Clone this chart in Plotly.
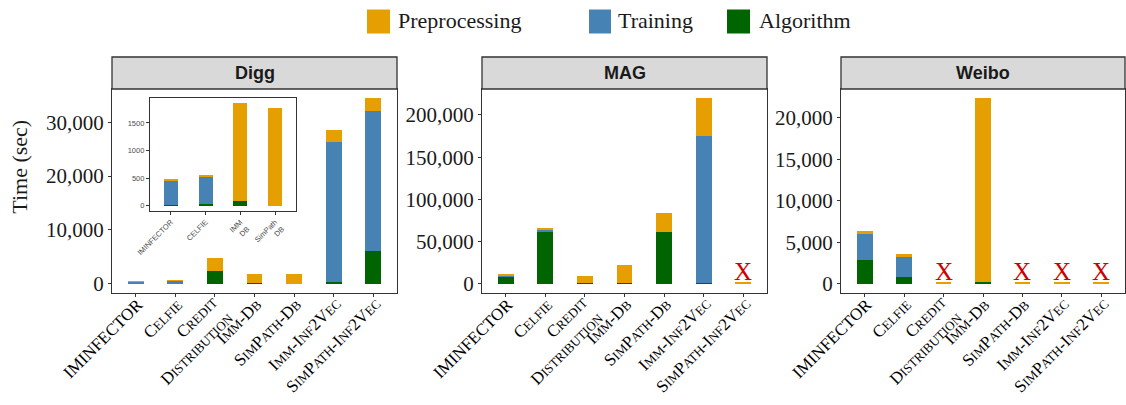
import plotly.graph_objects as go

# ---------------- data ----------------
categories = ["IMINFECTOR", "CELFIE", "CREDIT DISTRIBUTION", "IMM-DB",
              "SIMPATH-DB", "IMM-INF2VEC", "SIMPATH-INF2VEC"]

def sm(t):
    return "<span style='font-size:13px;color:#000000'>" + t + "</span>"

tick_labels = [
    "IMINFECTOR",
    "C" + sm("ELFIE"),
    "C" + sm("REDIT") + "<br>D" + sm("ISTRIBUTION"),
    "I" + sm("MM") + "-D" + sm("B"),
    "S" + sm("IM") + "P" + sm("ATH") + "-D" + sm("B"),
    "I" + sm("MM") + "-I" + sm("NF") + "2V" + sm("EC"),
    "S" + sm("IM") + "P" + sm("ATH") + "-I" + sm("NF") + "2V" + sm("EC"),
]

# Digg
digg_algorithm = [15, 30, 2300, 80, 0, 250, 6100]
digg_training = [430, 485, 0, 0, 0, 26000, 25900]
digg_preprocessing = [15, 22, 2430, 1775, 1765, 2400, 2450]
digg_missing = [False, False, False, False, False, False, False]

# MAG
mag_algorithm = [9100, 61100, 1000, 300, 61100, 1000, 0]
mag_training = [1200, 3600, 0, 0, 0, 173600, 0]
mag_preprocessing = [1200, 1200, 8100, 21500, 22600, 45200, 1200]
mag_missing = [False, False, False, False, False, False, True]

# Weibo
weibo_algorithm = [2820, 810, 0, 200, 0, 0, 0]
weibo_training = [3270, 2420, 0, 0, 0, 0, 0]
weibo_preprocessing = [240, 320, 120, 22140, 120, 120, 120]
weibo_missing = [False, False, True, False, True, True, True]

# Inset (Digg zoom)
inset_categories = ["IMINFECTOR", "CELFIE", "IMM<br>DB", "SimPath<br>DB"]
inset_algorithm = [15, 30, 80, 0]
inset_training = [430, 485, 0, 0]
inset_preprocessing = [15, 22, 1775, 1765]

series_names = ["Algorithm", "Training", "Preprocessing"]
colors = {"Preprocessing": "#E69F00", "Training": "#4682B4", "Algorithm": "#006400"}

# ---------------- layout helpers ----------------
W, H = 1126, 405
SERIF = "Liberation Serif"
SANS = "Liberation Sans"
LABEL_FS = 17

panel_y = [1 - 293 / H, 1 - 89 / H]
panels = [
    ("Digg", "x", "y", [112 / W, 397 / W],
     [digg_algorithm, digg_training, digg_preprocessing], digg_missing, 10000),
    ("MAG", "x2", "y2", [482 / W, 767 / W],
     [mag_algorithm, mag_training, mag_preprocessing], mag_missing, 50000),
    ("Weibo", "x3", "y3", [841 / W, 1125 / W],
     [weibo_algorithm, weibo_training, weibo_preprocessing], weibo_missing, 5000),
]

fig = go.Figure()
axis_common = dict(showline=True, mirror=True, linecolor="#333333", linewidth=1.3,
                   ticks="outside", ticklen=3, tickcolor="#333333", tickwidth=1,
                   showgrid=False, zeroline=False)

annotations = []
shapes = []
layout_axes = {}


def label_offsets(lbl):
    n = lbl.count("<br>") + 1
    box_h = (n - 1) * 1.3 * LABEL_FS + 1.107 * LABEL_FS + 4
    xs = 0.707 * box_h - 2.4
    ys = 1.0
    if n > 1:
        xs -= 4.5
        ys += 2.0
    return xs, ys


for name, xa, ya, xdom, series, missing, dtick in panels:
    for sname, vals in zip(series_names, series):
        fig.add_trace(go.Bar(x=categories, y=vals, name=sname, width=0.4,
                             marker=dict(color=colors[sname], line=dict(width=0)),
                             xaxis=xa, yaxis=ya, showlegend=False,
                             hovertemplate="%{x}: %{y}<extra>" + sname + "</extra>"))
    totals = [a + b + c for a, b, c in zip(*series)]
    ymax = max(totals)
    pad = 0.05 * ymax
    xkey = "xaxis" + xa[1:]
    ykey = "yaxis" + ya[1:]
    layout_axes[xkey] = dict(axis_common, domain=xdom, anchor=ya, type="category",
                             categoryorder="array", categoryarray=categories,
                             tickvals=categories, showticklabels=False,
                             range=[-0.6, 6.6])
    layout_axes[ykey] = dict(axis_common, domain=panel_y, anchor=xa,
                             range=[-pad, ymax + pad], dtick=dtick, tick0=0,
                             tickformat=",d",
                             tickfont=dict(family=SERIF, size=21, color="#1a1a1a"))
    # category labels (rotated, right-aligned at each tick)
    for cat, lbl in zip(categories, tick_labels):
        xs, ys = label_offsets(lbl)
        annotations.append(dict(xref=xa, yref=ya + " domain", x=cat, y=0, text=lbl,
                                textangle=-45, showarrow=False, xanchor="right",
                                yanchor="top", align="right", xshift=xs, yshift=ys,
                                font=dict(family=SERIF, size=LABEL_FS, color="#000000")))
    # strip header
    shapes.append(dict(type="rect", xref=xa + " domain", yref=ya + " domain",
                       x0=0, x1=1, y0=1, y1=1 + 32 / 204,
                       fillcolor="#D9D9D9", line=dict(color="#333333", width=1.3)))
    annotations.append(dict(xref=xa + " domain", yref=ya + " domain", x=0.5,
                            y=1 + 16 / 204, text="<b>" + name + "</b>", showarrow=False,
                            xanchor="center", yanchor="middle",
                            font=dict(family=SANS, size=18, color="#1a1a1a")))
    for cat, miss in zip(categories, missing):
        if miss:
            annotations.append(dict(xref=xa, yref=ya, x=cat, y=0, text="X",
                                    showarrow=False, xanchor="center", yanchor="bottom",
                                    yshift=-3,
                                    font=dict(family=SERIF, size=25, color="#CC0000")))

# inset
for sname, vals in zip(series_names, [inset_algorithm, inset_training, inset_preprocessing]):
    fig.add_trace(go.Bar(x=inset_categories, y=vals, name=sname, width=0.4,
                         marker=dict(color=colors[sname], line=dict(width=0)),
                         xaxis="x4", yaxis="y4", showlegend=False,
                         hovertemplate="%{x}: %{y}<extra>" + sname + "</extra>"))
inset_tot = max(a + b + c for a, b, c in zip(inset_algorithm, inset_training, inset_preprocessing))
layout_axes["xaxis4"] = dict(axis_common, domain=[150 / W, 296 / W], anchor="y4",
                             type="category", categoryorder="array",
                             categoryarray=inset_categories, range=[-0.6, 3.6],
                             tickangle=-45, ticklen=3, linewidth=1.2,
                             tickfont=dict(family=SANS, size=7.5, color="#4d4d4d"))
layout_axes["yaxis4"] = dict(axis_common, domain=[1 - 210.7 / H, 1 - 98.3 / H], anchor="x4",
                             range=[-0.05 * inset_tot, 1.05 * inset_tot], dtick=500, tick0=0,
                             ticklen=3, linewidth=1.2, tickformat="d",
                             tickfont=dict(family=SANS, size=7.5, color="#4d4d4d"))

# y title
annotations.append(dict(xref="paper", yref="paper", x=20 / W, y=1 - 166.7 / H,
                        text="Time (sec)", textangle=-90, showarrow=False,
                        xanchor="center", yanchor="middle",
                        font=dict(family=SERIF, size=22, color="#1a1a1a")))

# legend (keys + labels)
legend_items = [("Preprocessing", 367, 390, 396), ("Training", 589, 611, 616),
                ("Algorithm", 727, 750, 757)]
for lab, x0, x1, xt in legend_items:
    shapes.append(dict(type="rect", xref="paper", yref="paper",
                       x0=x0 / W, x1=x1 / W, y0=1 - 33.5 / H, y1=1 - 9.5 / H,
                       fillcolor=colors[lab], line=dict(width=0)))
    annotations.append(dict(xref="paper", yref="paper", x=xt / W, y=1 - 21 / H,
                            text=lab, showarrow=False, xanchor="left", yanchor="middle",
                            font=dict(family=SERIF, size=22, color="#1a1a1a")))

fig.update_layout(
    width=W, height=H, template="none", barmode="stack",
    margin=dict(l=0, r=0, t=0, b=0),
    paper_bgcolor="white", plot_bgcolor="white",
    showlegend=False, annotations=annotations, shapes=shapes,
    font=dict(family=SERIF, color="#1a1a1a"),
    **layout_axes,
)

fig.write_html("out.html", config={"displayModeBar": False},
               post_script="document.body.style.margin='0';document.body.style.overflow='hidden';")
